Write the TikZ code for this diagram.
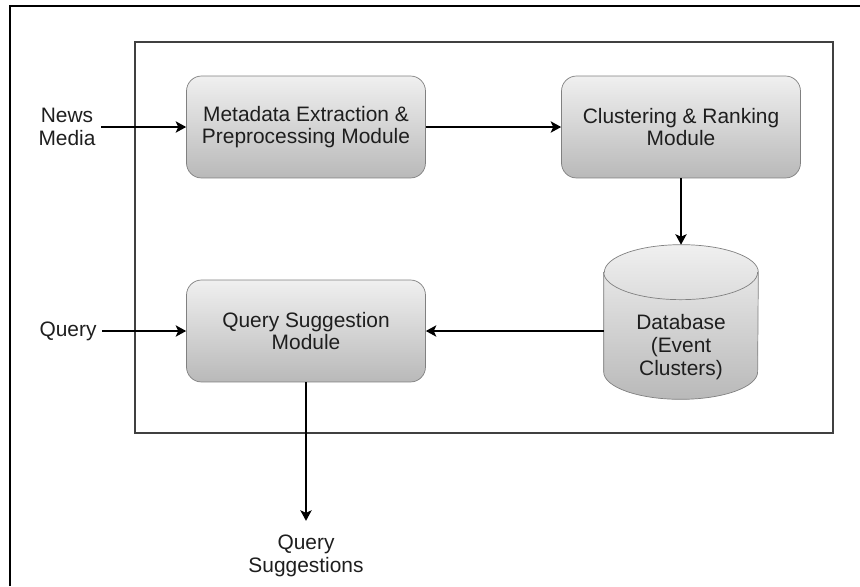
\documentclass[tikz,border=0pt]{standalone}
\usepackage{fontspec}
\setmainfont{Liberation Sans}
\usepackage{xcolor}
\usetikzlibrary{arrows.meta,positioning}

\definecolor{txtgray}{HTML}{1E1E1E}

\begin{document}
\begin{tikzpicture}[x=0.02cm, y=-0.02cm,
        every node/.style={text=txtgray, align=center,
                           font=\fontsize{11.9}{12.9}\selectfont},
        module/.style={draw=gray, rounded corners=0.3cm,
                       top color=gray!12, bottom color=gray!55,
                       minimum width=4.78cm, minimum height=2.04cm},
        dbox/.style={inner sep=0pt, minimum width=3.08cm, minimum height=3.08cm},
        dbfill/.style={draw=gray, top color=gray!12, bottom color=gray!55},
        rim/.style={x radius=1.54cm, y radius=0.55cm},
        plain/.style={inner sep=3pt},
        flow/.style={-{Stealth[length=6pt, width=6.5pt, inset=1.5pt]},
                     line width=0.75pt}]
    \useasboundingbox (0,0) rectangle (860,586);
    \draw[line width=0.9pt] (10,586) -- (10,6) -- (860,6);
    \draw[line width=0.9pt, black!75] (135,42) rectangle (833,433);

    \node[module] (meta)  at (306,127) {Metadata Extraction \&\\Preprocessing Module};
    \node[module] (clust) at (681,127) {Clustering \& Ranking\\Module};
    \node[module] (qsm)   at (306,331) {Query Suggestion\\Module};

    % database drawn as a cylinder round an empty node
    \node[dbox] (db) at (681,322) {};
    \draw[dbfill] ([yshift=-0.55cm]db.north west) -- ([yshift=0.55cm]db.south west)
        arc[start angle=180, end angle=360, rim]
        -- ([yshift=-0.55cm]db.north east)
        arc[start angle=0, end angle=180, rim] -- cycle;
    \draw[gray] ([yshift=-0.55cm]db.north west) arc[start angle=180, end angle=360, rim];
    \node (dbtext) at ([yshift=-0.5cm]db.center) {Database\\(Event\\Clusters)};

    \node[plain] (news)  at (67,127)  {News\\Media};
    \node[plain] (query) at (68,331)  {Query};
    \node[plain] (sugg)  at (306,556) {Query\\Suggestions};

    \draw[flow] (news) -- (meta);
    \draw[flow] (meta) -- (clust);
    \draw[flow] (clust) -- (db);
    \draw[flow] (qsm -| db.west) -- (qsm.east);
    \draw[flow] (query) -- (qsm);
    \draw[flow, shorten >=5pt] (qsm) -- (sugg);
\end{tikzpicture}
\end{document}
